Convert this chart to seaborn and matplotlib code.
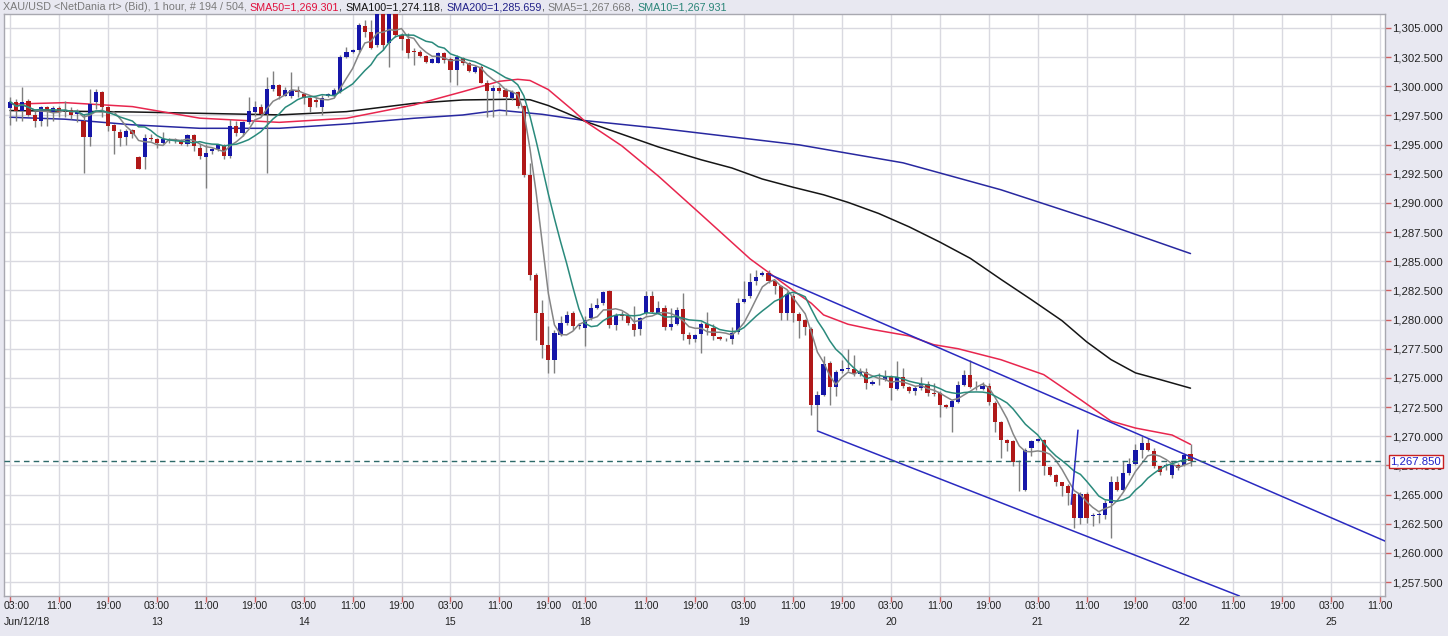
import matplotlib
matplotlib.use("Agg")
import matplotlib.pyplot as plt
import matplotlib.transforms as mtransforms
import numpy as np
import pandas as pd
import seaborn as sns

# ---------------------------------------------------------------------------
# Data: XAU/USD hourly candles, index 0 = Jun 12 03:00
# ---------------------------------------------------------------------------
opens = [
    1298.13, 1298.62, 1297.90, 1298.77, 1297.53, 1297.04, 1298.19, 1297.70, 1298.11, 1297.90,
    1297.99, 1297.62, 1297.04, 1295.69, 1298.62, 1299.54, 1298.19, 1296.67, 1296.09, 1295.66,
    1296.24, 1293.94, 1293.94, 1295.61, 1295.52, 1295.18, 1295.41, 1295.38, 1295.38, 1295.04,
    1295.81, 1294.74, 1293.94, 1294.46, 1294.60, 1294.89, 1294.03, 1296.61, 1295.98, 1296.96,
    1297.76, 1298.19, 1297.62, 1299.77, 1300.12, 1299.20, 1299.20, 1299.69, 1299.34, 1298.97,
    1298.83, 1298.26, 1299.20, 1299.26, 1299.54, 1302.54, 1302.97, 1303.11, 1305.17, 1304.63,
    1303.54, 1306.60, 1303.69, 1306.20, 1304.40, 1304.03, 1302.97, 1302.97, 1302.60, 1302.03,
    1302.03, 1302.83, 1302.31, 1301.40, 1302.40, 1301.97, 1301.26, 1301.69, 1300.26, 1299.63,
    1299.89, 1299.69, 1299.00, 1299.50, 1298.30, 1292.43, 1283.86, 1280.57, 1277.86, 1276.57,
    1278.72, 1279.72, 1280.57, 1279.43, 1279.29, 1280.14, 1281.00, 1281.43, 1282.43, 1279.57,
    1280.40, 1280.29, 1279.66, 1279.20, 1280.53, 1281.98, 1280.53, 1281.02, 1279.37, 1279.66,
    1280.88, 1278.70, 1278.30, 1278.79, 1279.60, 1279.31, 1278.50, 1278.30, 1278.35, 1278.93,
    1281.54, 1281.98, 1283.28, 1283.80, 1284.01, 1283.34, 1282.85, 1280.53, 1282.06, 1280.44,
    1279.95, 1279.23, 1272.70, 1273.56, 1276.28, 1274.19, 1275.56, 1275.76, 1275.76, 1275.36,
    1275.50, 1274.50, 1274.70, 1274.84, 1275.07, 1274.07, 1275.07, 1274.19, 1273.84, 1274.13,
    1274.47, 1273.70, 1273.70, 1272.64, 1272.50, 1272.90, 1274.36, 1275.27, 1274.19, 1274.04,
    1274.33, 1272.84, 1271.20, 1269.66, 1269.57, 1267.80, 1265.37, 1269.00, 1269.57, 1269.71,
    1267.37, 1266.71, 1266.06, 1265.71, 1265.08, 1263.00, 1265.08, 1263.14, 1263.28, 1263.28,
    1264.28, 1266.06, 1265.43, 1266.86, 1267.66, 1268.86, 1269.43, 1268.71, 1267.43, 1267.43,
    1266.71, 1267.57, 1267.57, 1268.49,
]
highs = [
    1299.06, 1298.91, 1299.92, 1298.91, 1297.90, 1298.34, 1298.34, 1298.34, 1298.34, 1298.77,
    1298.19, 1298.05, 1297.62, 1299.77, 1299.77, 1299.63, 1298.34, 1296.76, 1296.33, 1296.33,
    1296.33, 1294.03, 1295.89, 1295.89, 1295.61, 1296.04, 1295.61, 1295.61, 1295.46, 1295.89,
    1295.89, 1295.04, 1295.04, 1294.74, 1295.04, 1295.04, 1297.19, 1297.04, 1297.04, 1299.06,
    1298.77, 1298.48, 1300.78, 1301.35, 1300.20, 1299.92, 1301.21, 1300.06, 1299.40, 1299.11,
    1299.11, 1299.26, 1299.40, 1299.83, 1302.69, 1303.40, 1303.17, 1305.40, 1305.69, 1305.69,
    1307.00, 1307.20, 1306.90, 1306.80, 1304.54, 1304.54, 1303.26, 1303.11, 1302.69, 1302.40,
    1302.97, 1302.97, 1302.54, 1302.69, 1302.54, 1302.11, 1301.83, 1301.83, 1300.54, 1300.11,
    1300.11, 1299.83, 1299.69, 1299.60, 1298.40, 1293.43, 1284.00, 1281.72, 1279.43, 1279.14,
    1280.29, 1280.71, 1280.71, 1279.70, 1280.29, 1281.43, 1281.86, 1282.43, 1282.57, 1280.57,
    1280.70, 1280.43, 1281.14, 1280.20, 1282.41, 1282.41, 1281.60, 1281.25, 1280.96, 1281.11,
    1282.27, 1278.93, 1278.79, 1279.80, 1280.61, 1279.66, 1278.59, 1278.40, 1279.37, 1281.89,
    1283.28, 1284.01, 1284.21, 1284.15, 1284.21, 1283.43, 1282.99, 1282.41, 1282.27, 1280.67,
    1280.09, 1279.40, 1273.90, 1276.85, 1276.42, 1275.70, 1276.56, 1277.48, 1276.99, 1275.85,
    1275.85, 1274.84, 1275.42, 1275.65, 1275.27, 1276.42, 1275.85, 1274.27, 1274.27, 1275.07,
    1274.70, 1274.60, 1273.84, 1272.78, 1273.13, 1274.70, 1275.70, 1276.56, 1274.70, 1274.62,
    1274.56, 1272.98, 1271.30, 1269.80, 1269.70, 1268.00, 1269.00, 1269.71, 1269.86, 1269.80,
    1267.43, 1266.80, 1266.10, 1265.90, 1265.14, 1265.20, 1265.20, 1263.40, 1263.50, 1264.57,
    1266.57, 1266.57, 1267.86, 1268.14, 1269.29, 1270.06, 1269.86, 1269.00, 1267.48, 1267.70,
    1267.86, 1267.70, 1268.57, 1269.29,
]
lows = [
    1296.70, 1297.04, 1297.04, 1297.47, 1296.47, 1296.61, 1296.61, 1297.04, 1297.33, 1297.33,
    1297.19, 1296.90, 1292.59, 1294.89, 1298.05, 1297.33, 1296.18, 1294.17, 1294.89, 1294.95,
    1295.61, 1292.88, 1292.88, 1295.32, 1294.74, 1295.04, 1295.18, 1295.18, 1294.95, 1294.89,
    1294.46, 1293.74, 1291.30, 1294.17, 1294.46, 1293.74, 1293.88, 1295.75, 1295.75, 1296.76,
    1297.47, 1297.47, 1292.59, 1299.63, 1298.91, 1299.20, 1298.97, 1299.06, 1298.49, 1297.83,
    1298.26, 1297.54, 1299.11, 1299.11, 1299.40, 1302.40, 1302.83, 1302.97, 1304.26, 1303.17,
    1303.40, 1303.11, 1301.69, 1304.26, 1303.11, 1302.40, 1301.83, 1302.54, 1301.97, 1301.97,
    1301.97, 1301.97, 1300.40, 1300.11, 1301.83, 1301.26, 1301.17, 1300.26, 1297.40, 1297.40,
    1299.40, 1297.54, 1298.80, 1298.11, 1292.20, 1283.43, 1278.29, 1276.72, 1275.43, 1275.43,
    1278.57, 1279.57, 1279.14, 1279.20, 1277.72, 1280.00, 1280.90, 1281.29, 1279.29, 1279.14,
    1280.00, 1279.57, 1278.57, 1278.70, 1280.40, 1280.53, 1280.44, 1279.08, 1279.08, 1279.51,
    1278.21, 1277.92, 1278.06, 1277.11, 1278.64, 1278.21, 1278.21, 1278.20, 1277.92, 1278.79,
    1281.40, 1281.83, 1282.99, 1283.72, 1283.14, 1282.18, 1279.95, 1279.95, 1279.80, 1278.41,
    1278.64, 1271.84, 1270.55, 1273.47, 1272.70, 1273.47, 1275.42, 1275.56, 1275.13, 1275.13,
    1274.07, 1274.40, 1274.40, 1274.70, 1273.07, 1273.99, 1274.13, 1273.70, 1273.56, 1273.99,
    1273.41, 1273.41, 1271.69, 1272.41, 1270.32, 1272.84, 1274.27, 1274.13, 1273.99, 1273.93,
    1272.70, 1270.40, 1268.14, 1268.71, 1267.48, 1265.28, 1265.28, 1268.28, 1269.50, 1266.71,
    1266.60, 1265.71, 1264.86, 1264.14, 1262.14, 1262.50, 1262.57, 1262.28, 1262.57, 1262.86,
    1261.28, 1265.28, 1265.28, 1266.71, 1267.57, 1268.14, 1268.71, 1267.29, 1266.71, 1267.14,
    1266.43, 1267.14, 1267.43, 1267.43,
]
closes = [
    1298.68, 1297.90, 1298.68, 1297.56, 1297.04, 1298.19, 1297.76, 1298.11, 1297.76, 1297.93,
    1297.56, 1297.90, 1295.69, 1298.48, 1299.49, 1298.19, 1296.61, 1296.18, 1295.61, 1296.18,
    1295.89, 1292.93, 1295.61, 1295.46, 1295.12, 1295.52, 1295.52, 1295.50, 1295.09, 1295.81,
    1294.89, 1294.03, 1294.31, 1294.66, 1294.95, 1294.03, 1296.61, 1295.98, 1296.90, 1297.90,
    1298.19, 1297.62, 1299.77, 1300.12, 1299.20, 1299.69, 1299.69, 1299.49, 1298.97, 1298.26,
    1298.69, 1298.97, 1299.31, 1299.69, 1302.54, 1302.97, 1303.11, 1305.26, 1304.69, 1303.26,
    1306.50, 1303.54, 1306.30, 1304.40, 1304.03, 1302.89, 1302.95, 1302.63, 1302.11, 1302.31,
    1302.83, 1302.26, 1301.40, 1302.54, 1301.97, 1301.31, 1301.69, 1300.31, 1299.63, 1299.89,
    1299.63, 1299.10, 1299.50, 1298.30, 1292.43, 1283.86, 1280.57, 1277.86, 1276.57, 1278.86,
    1279.72, 1280.43, 1279.43, 1279.50, 1280.00, 1281.00, 1281.29, 1282.34, 1279.57, 1280.43,
    1280.30, 1279.72, 1279.09, 1280.10, 1281.98, 1280.67, 1280.96, 1279.37, 1279.66, 1280.82,
    1278.79, 1278.30, 1278.70, 1279.66, 1279.31, 1278.59, 1278.30, 1278.32, 1278.88, 1281.40,
    1281.74, 1283.22, 1283.66, 1284.01, 1283.34, 1282.85, 1280.53, 1282.18, 1280.53, 1279.86,
    1279.37, 1272.70, 1273.56, 1276.19, 1274.19, 1275.50, 1275.79, 1275.78, 1275.36, 1275.50,
    1274.56, 1274.64, 1274.72, 1275.07, 1274.13, 1275.07, 1274.27, 1273.84, 1274.10, 1274.47,
    1273.70, 1273.64, 1272.64, 1272.50, 1272.98, 1274.36, 1275.27, 1274.19, 1274.21, 1274.33,
    1272.90, 1271.18, 1269.71, 1269.43, 1267.77, 1267.75, 1268.80, 1269.57, 1269.80, 1267.43,
    1266.71, 1266.06, 1265.71, 1265.14, 1263.00, 1265.08, 1263.00, 1263.28, 1263.30, 1264.28,
    1266.06, 1265.43, 1266.86, 1267.66, 1268.86, 1269.43, 1268.80, 1267.43, 1266.91, 1267.45,
    1267.57, 1267.29, 1268.43, 1267.85,
]

# long moving averages (they need history before the window)
sma50_idx = [0, 9, 20, 31, 44, 55, 66, 74, 80, 83, 85, 88, 92, 94, 100, 106, 113, 121, 124,
             128, 131, 133, 137, 141, 147, 151, 155, 162, 169, 175, 180, 184, 190, 193]
sma50_val = [1298.47, 1298.60, 1298.26, 1297.27, 1296.91, 1297.26, 1298.40, 1299.54, 1300.43,
             1300.60, 1300.50, 1299.72, 1297.95, 1297.00, 1294.90, 1292.30, 1289.00, 1285.20,
             1284.05, 1282.50, 1281.40, 1280.40, 1279.60, 1279.15, 1278.60, 1277.85, 1277.50,
             1276.56, 1275.28, 1273.14, 1271.30, 1270.70, 1270.10, 1269.30]
sma100_idx = [0, 20, 44, 55, 66, 74, 82, 85, 88, 91, 94, 100, 106, 113, 118, 123, 128, 133,
              137, 142, 147, 152, 157, 162, 167, 172, 176, 180, 184, 188, 193]
sma100_val = [1297.92, 1297.80, 1297.55, 1297.83, 1298.54, 1298.83, 1298.89, 1298.85, 1298.35,
              1297.70, 1297.00, 1295.90, 1294.80, 1293.70, 1293.00, 1292.05, 1291.35, 1290.70,
              1290.05, 1289.10, 1287.95, 1286.65, 1285.25, 1283.45, 1281.70, 1279.90, 1278.10,
              1276.57, 1275.43, 1274.86, 1274.12]
sma200_idx = [0, 9, 20, 31, 44, 55, 66, 74, 80, 87, 94, 106, 129, 146, 162, 179, 193]
sma200_val = [1297.35, 1297.18, 1296.70, 1296.40, 1296.40, 1296.77, 1297.26, 1297.54, 1297.95,
              1297.60, 1297.06, 1296.41, 1294.98, 1293.44, 1291.13, 1288.22, 1285.66]

# drawn trend lines (start / end as hour index and price)
upper_channel = ([124, 224.8], [1283.91, 1261.01])
lower_channel = ([132, 201], [1270.45, 1256.30])
spike_line = ([173.5, 174.6], [1264.16, 1270.52])
last_price = 1267.85

# x-axis ticks (hour index) and labels
tick_idx = [0, 8, 16, 24, 32, 40, 48, 56, 64, 72, 80, 88, 94, 104, 112, 120, 128, 136,
            144, 152, 160, 168, 176, 184, 192, 200, 208, 216, 224]
tick_time = ["03:00", "11:00", "19:00"] * 4 + ["01:00"] + \
            ["11:00", "19:00", "03:00"] * 5 + ["11:00"]
day_idx = [0, 24, 48, 72, 94, 120, 144, 168, 192, 216]
day_lab = ["Jun/12/18", "13", "14", "15", "18", "19", "20", "21", "22", "25"]

title_parts = [
    ("XAU/USD <NetDania rt> (Bid), 1 hour, # 194 / 504, ", "#7a7a7a"),
    ("SMA50=1,269.301", "#e0103c"),
    (", ", "#333333"),
    ("SMA100=1,274.118", "#111111"),
    (", ", "#333333"),
    ("SMA200=1,285.659", "#202088"),
    (", ", "#333333"),
    ("SMA5=1,267.668", "#7a7a7a"),
    (", ", "#333333"),
    ("SMA10=1,267.931", "#2a8578"),
]

# ---------------------------------------------------------------------------
# Style
# ---------------------------------------------------------------------------
BG = "#e8e8f1"
UP = "#1616a8"
DOWN = "#b01818"
WICK = "#7f7f7f"

sns.set_theme(style="white")
plt.rcParams["font.family"] = ["Liberation Sans", "DejaVu Sans"]

fig = plt.figure(figsize=(14.48, 6.36), dpi=100, facecolor=BG)
W, H = 1448, 636
ax = fig.add_axes([4 / W, (H - 596) / H, (1385 - 4) / W, (596 - 14) / H])
ax.set_facecolor("white")

df = pd.DataFrame({"o": opens, "h": highs, "l": lows, "c": closes})
df["i"] = np.arange(len(df))
df["sma5"] = df["c"].rolling(5, min_periods=1).mean()
df["sma10"] = df["c"].rolling(10, min_periods=1).mean()

# grid
yticks = np.arange(1257.5, 1305.01, 2.5)
for t in tick_idx:
    ax.axvline(t, color="#d9d9e0", lw=1, zorder=0)
for y in yticks:
    ax.axhline(y, color="#d9d9e0", lw=1, zorder=0)

# long SMAs
sns.lineplot(x=sma200_idx, y=sma200_val, ax=ax, color="#2828a0", lw=1.1, zorder=2)
sns.lineplot(x=sma100_idx, y=sma100_val, ax=ax, color="#151515", lw=1.1, zorder=2)
sns.lineplot(x=sma50_idx, y=sma50_val, ax=ax, color="#e8264e", lw=1.1, zorder=2)

# candles
up = df["c"] >= df["o"]
ax.vlines(df["i"], df["l"], df["h"], color=WICK, lw=1, zorder=3)
body_lo = np.minimum(df["o"], df["c"])
body_h = np.maximum((df["c"] - df["o"]).abs(), 0.07)
ax.bar(df["i"], body_h, bottom=body_lo, width=0.68,
       color=np.where(up, UP, DOWN), linewidth=0, zorder=4)

# short SMAs
sns.lineplot(data=df, x="i", y="sma5", ax=ax, color="#858585", lw=1.1, zorder=5)
sns.lineplot(data=df, x="i", y="sma10", ax=ax, color="#2a8a7c", lw=1.1, zorder=5)

# trend lines
for xs, ys in (upper_channel, lower_channel, spike_line):
    ax.plot(xs, ys, color="#2a2ac0", lw=1.1, zorder=6)

# last price
ax.axhline(last_price, color="#2d6a6a", lw=1, ls=(0, (4, 3)), zorder=6)
ax.annotate(f"{last_price:,.3f}", xy=(1.0, last_price),
            xycoords=("axes fraction", "data"), xytext=(4, 0),
            textcoords="offset points", ha="left", va="center",
            fontsize=8.2, color="#1e1ec8", annotation_clip=False, zorder=10,
            bbox=dict(boxstyle="square,pad=0.12", fc="white", ec="#c82020", lw=1))

ax.set_xlim(-1.0, 224.8)
ax.set_ylim(1256.30, 1306.20)

# right price axis
ax.yaxis.tick_right()
ax.set_yticks(yticks)
ax.set_yticklabels([f"{v:,.3f}" for v in yticks])
ax.tick_params(axis="y", which="major", length=4, width=1, color="#d06060",
               labelsize=8.2, labelcolor="#222222", pad=1, right=True, left=False)

# bottom time axis
ax.set_xticks(tick_idx)
ax.set_xticklabels([])
ax.tick_params(axis="x", length=4, width=1, color="#d06060", bottom=True)
trans = mtransforms.blended_transform_factory(ax.transData, fig.transFigure)
for t, lab in zip(tick_idx, tick_time):
    ha = "left" if t == 0 else "center"
    xt = -1.0 if t == 0 else t
    ax.text(xt, 1 - 606 / H, lab, transform=trans, ha=ha, va="center",
            fontsize=7.6, color="#222222", clip_on=False)
for t, lab in zip(day_idx, day_lab):
    ha = "left" if t == 0 else "center"
    xt = -1.0 if t == 0 else t
    ax.text(xt, 1 - 622 / H, lab, transform=trans, ha=ha, va="center",
            fontsize=7.6, color="#222222", clip_on=False)

ax.set_xlabel("")
ax.set_ylabel("")
for s in ax.spines.values():
    s.set_color("#a8a8b0")
    s.set_linewidth(1)

# title made of coloured pieces
fig.canvas.draw()
renderer = fig.canvas.get_renderer()
x = 3 / W
for txt, col in title_parts:
    t = fig.text(x, 1 - 7 / H, txt, color=col, fontsize=7.75, ha="left", va="center")
    x += t.get_window_extent(renderer).width / fig.bbox.width

fig.savefig("out.png", dpi=100, facecolor=BG)
